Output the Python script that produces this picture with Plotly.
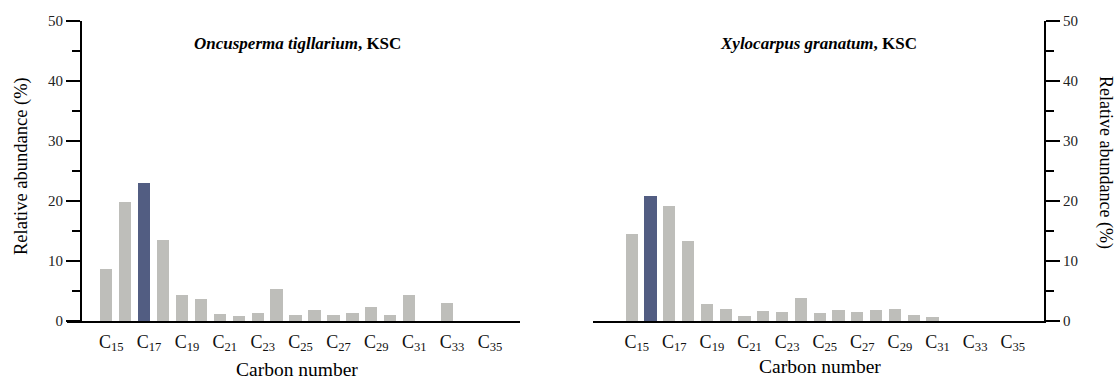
import plotly.graph_objects as go

W, H = 1117, 379

carbons = list(range(15, 36))
oncusperma = [8.7, 19.9, 23.0, 13.5, 4.3, 3.7, 1.2, 0.9, 1.4, 5.3, 1.1, 1.9, 1.0, 1.4,
              2.4, 1.1, 4.4, 0.0, 3.1, 0.0, 0.0]
xylocarpus = [14.6, 20.9, 19.2, 13.4, 2.9, 2.1, 0.9, 1.7, 1.6, 3.8, 1.4, 1.9, 1.6, 1.8,
              2.0, 1.1, 0.8, 0.0, 0.0, 0.0, 0.0]
highlight_left = 17
highlight_right = 16
tick_carbons = list(range(15, 36, 2))
tick_labels = [f"C<sub>{c}</sub>" for c in tick_carbons]
y_ticks = [0, 10, 20, 30, 40, 50]
y_tick_labels = [str(v) for v in y_ticks]

GRAY = "#BEBEBA"
BLUE = "#525D82"
FONT = "Liberation Serif"

def px(x):
    return x / W

def py(y):
    return 1 - y / H

fig = go.Figure()
fig.add_trace(go.Bar(
    x=carbons, y=oncusperma, width=0.65,
    marker=dict(color=[BLUE if c == highlight_left else GRAY for c in carbons],
                line=dict(width=0)),
    xaxis="x", yaxis="y", showlegend=False))
fig.add_trace(go.Bar(
    x=carbons, y=xylocarpus, width=0.65,
    marker=dict(color=[BLUE if c == highlight_right else GRAY for c in carbons],
                line=dict(width=0)),
    xaxis="x2", yaxis="y2", showlegend=False))

ydom = [py(321), py(20.7)]


def xaxis_style(**kw):
    d = dict(showline=True, linecolor="black", linewidth=2, ticks="",
             tickmode="array", tickvals=tick_carbons, ticktext=tick_labels,
             showgrid=False, zeroline=False,
             tickfont=dict(family=FONT, size=18, color="#111"),
             ticklabelshift=5, ticklabelstandoff=3)
    d.update(kw)
    return d


def yaxis_style(**kw):
    d = dict(range=[0, 50], showline=True, linecolor="black", linewidth=2,
             ticks="outside", ticklen=14, tickwidth=2, tickcolor="black",
             tickmode="array", tickvals=y_ticks, ticktext=y_tick_labels,
             showticklabels=True, showgrid=False, zeroline=False,
             tickfont=dict(family=FONT, size=15, color="#222"),
             minor=dict(ticks="outside", ticklen=8, tickwidth=2, tickcolor="black",
                        tickmode="linear", dtick=5, tick0=0, showgrid=False),
             domain=ydom)
    d.update(kw)
    return d


fig.update_layout(
    template="none",
    width=W, height=H, margin=dict(l=0, r=0, t=0, b=0, pad=0),
    font=dict(family=FONT, size=14, color="#222"),
    plot_bgcolor="white", paper_bgcolor="white", bargap=0,
    xaxis=xaxis_style(domain=[px(67), px(520)], range=[12.93, 36.85], anchor="y"),
    yaxis=yaxis_style(anchor="free", position=px(81), side="left"),
    xaxis2=xaxis_style(domain=[px(593), px(1044)], range=[12.94, 36.93], anchor="y2"),
    yaxis2=yaxis_style(anchor="x2", side="right"),
)

ann = [
    dict(text="<b><i>Oncusperma tigllarium</i>, KSC</b>", x=px(297), y=py(44),
         font=dict(size=17)),
    dict(text="<b><i>Xylocarpus granatum</i>, KSC</b>", x=px(818), y=py(44),
         font=dict(size=17)),
    dict(text="Carbon number", x=px(297), y=py(369), font=dict(size=19.5)),
    dict(text="Carbon number", x=px(820), y=py(366), font=dict(size=19.5)),
    dict(text="Relative abundance (%)", x=px(22), y=py(166), textangle=-90,
         font=dict(size=18.5)),
    dict(text="Relative abundance (%)", x=px(1106), y=py(162), textangle=90,
         font=dict(size=18)),
]
for a in ann:
    a.update(xref="paper", yref="paper", showarrow=False, xanchor="center",
             yanchor="middle")
    a["font"].update(family=FONT, color="black")
    fig.add_annotation(**a)

fig.write_html("out.html")
